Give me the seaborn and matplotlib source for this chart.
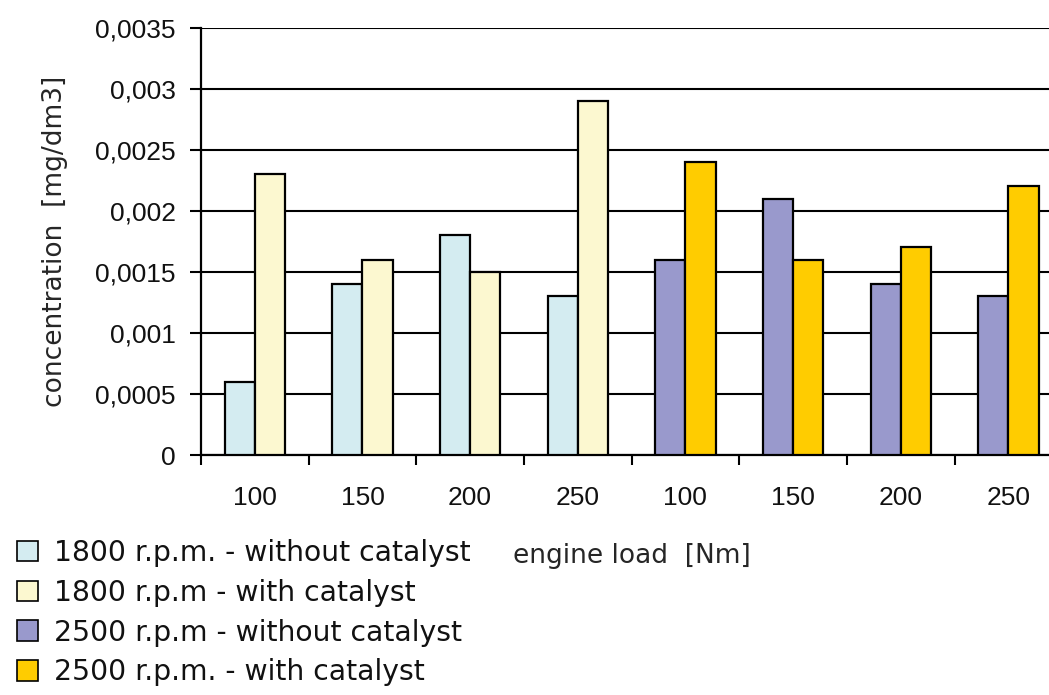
import matplotlib
matplotlib.use("Agg")
import matplotlib.pyplot as plt
from matplotlib.patches import Patch
from matplotlib.ticker import FuncFormatter, MultipleLocator, FixedLocator
import seaborn as sns
import pandas as pd

# dane
loads = ['100', '150', '200', '250']
series_names = ['1800 r.p.m. - without catalyst', '1800 r.p.m - with catalyst',
                '2500 r.p.m - without catalyst', '2500 r.p.m. - with catalyst']
v1800_without = [0.0006, 0.0014, 0.0018, 0.0013]
v1800_with = [0.0023, 0.0016, 0.0015, 0.0029]
v2500_without = [0.0016, 0.0021, 0.0014, 0.0013]
v2500_with = [0.0024, 0.0016, 0.0017, 0.0022]
colors = ['#d4ecf1', '#fcf8d0', '#9999cc', '#ffcc00']

groups = ['1800-' + l for l in loads] + ['2500-' + l for l in loads]

rows = []
for i, l in enumerate(loads):
    rows.append(('1800-' + l, series_names[0], v1800_without[i]))
    rows.append(('1800-' + l, series_names[1], v1800_with[i]))
    rows.append(('2500-' + l, series_names[2], v2500_without[i]))
    rows.append(('2500-' + l, series_names[3], v2500_with[i]))
df = pd.DataFrame(rows, columns=['group', 'series', 'value'])
palette = dict(zip(series_names, colors))

sns.set_style('white')
plt.rcParams['font.family'] = ['Liberation Sans', 'DejaVu Sans']
plt.rcParams['text.color'] = '#111111'

fig = plt.figure(figsize=(10.49, 6.95), dpi=100)
ax = fig.add_axes([0.1916, 0.3453, 0.821, 0.615])

for rpm, hue_order in [('1800', series_names[:2]), ('2500', series_names[2:])]:
    sub = df[df['group'].str.startswith(rpm)]
    sns.barplot(data=sub, x='group', y='value', hue='series', order=groups,
                hue_order=hue_order, palette=palette, saturation=1, width=0.56,
                edgecolor='black', linewidth=1.6, legend=False, ax=ax, zorder=3)

ax.set_xlim(-0.5, 7.5)
ax.set_ylim(0, 0.0035)
ax.yaxis.set_major_locator(MultipleLocator(0.0005))
ax.yaxis.set_major_formatter(FuncFormatter(
    lambda v, p: ('%.4f' % v).rstrip('0').rstrip('.').replace('.', ',')))
ax.set_xticks(range(8))
ax.set_xticklabels(loads * 2)
ax.xaxis.set_minor_locator(FixedLocator([i - 0.5 for i in range(9)]))
ax.tick_params(axis='x', which='major', length=0, pad=22, labelsize=19, labelcolor='#111111')
ax.tick_params(axis='x', which='minor', length=7, width=1.5, direction='out', color='black')
ax.tick_params(axis='y', length=8, width=1.5, direction='out', color='black', pad=10,
               labelsize=19, labelcolor='#111111')
ax.tick_params(left=True, bottom=True, which='both')

ax.yaxis.grid(True, color='black', linewidth=1.5, zorder=0)
ax.set_axisbelow(True)
ax.get_ygridlines()[-1].set_color('#aaaaaa')
for s in ['top', 'right']:
    ax.spines[s].set_visible(False)
for s in ['left', 'bottom']:
    ax.spines[s].set_color('black')
    ax.spines[s].set_linewidth(1.6)

ax.set_xlabel('engine load  [Nm]', family='DejaVu Sans', fontsize=19, labelpad=24)
ax.set_ylabel('concentration  [mg/dm3]', family='DejaVu Sans', fontsize=19, labelpad=20)

handles = [Patch(facecolor=c, edgecolor='black', linewidth=1.2) for c in colors]
fig.legend(handles, series_names, loc='lower left', bbox_to_anchor=(0.0, -0.012),
           frameon=False, prop={'family': 'DejaVu Sans', 'size': 20.3},
           handlelength=0.75, handleheight=0.75,
           handletextpad=0.55, labelspacing=0.42, borderaxespad=0.2)

fig.savefig('out.png', dpi=100)
